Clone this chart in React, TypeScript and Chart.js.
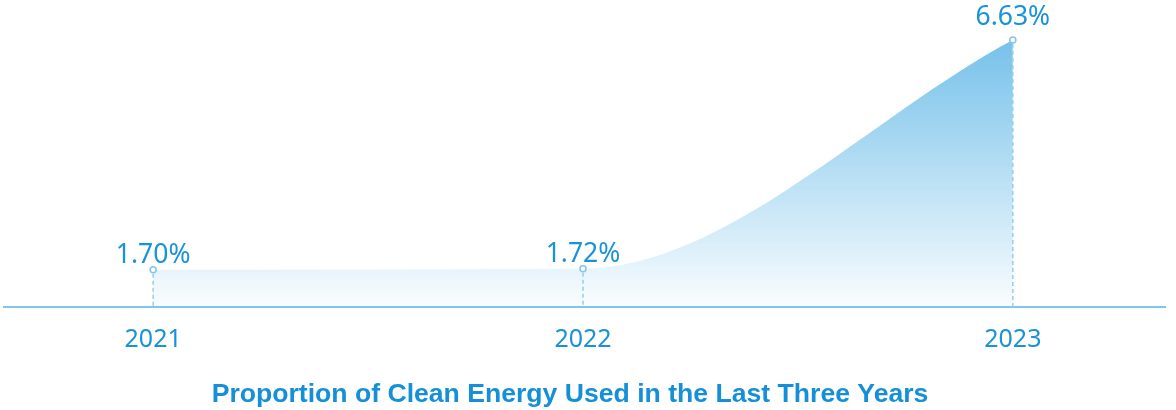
import React, { useEffect, useRef } from "react";
import { Chart, registerables } from "chart.js";

Chart.register(...registerables);

const years = [2021, 2022, 2023];
const yearLabels = ["2021", "2022", "2023"];
const shares = [1.7, 1.72, 6.63];
const shareLabels = ["1.70%", "1.72%", "6.63%"];
const chartTitle = "Proportion of Clean Energy Used in the Last Three Years";

const BLUE_TEXT = "#1a92d8";
const TITLE_BLUE = "#1590d8";
const LINE_BLUE = "#80c6ec";
const NUM_FONT = "'Noto Sans', sans-serif";

const overlayPlugin = {
  id: "overlay",
  afterDatasetsDraw(chart: any) {
    const ctx = chart.ctx;
    const meta = chart.getDatasetMeta(0);
    const bottom = chart.chartArea.bottom;
    const last = meta.data.length - 1;
    ctx.save();
    meta.data.forEach((pt: any, i: number) => {
      ctx.strokeStyle = "#93cfee";
      ctx.lineWidth = 1.5;
      ctx.setLineDash([4, 3]);
      ctx.beginPath();
      ctx.moveTo(pt.x, pt.y + 4);
      ctx.lineTo(pt.x, bottom);
      ctx.stroke();
      ctx.setLineDash([]);
      ctx.fillStyle = "#ffffff";
      ctx.strokeStyle = LINE_BLUE;
      ctx.lineWidth = 1.5;
      ctx.beginPath();
      ctx.arc(pt.x, pt.y, 3, 0, Math.PI * 2);
      ctx.fill();
      ctx.stroke();
      ctx.fillStyle = BLUE_TEXT;
      ctx.font = `400 26.5px ${NUM_FONT}`;
      ctx.textAlign = "center";
      ctx.textBaseline = "alphabetic";
      ctx.fillText(shareLabels[i], pt.x, pt.y - (i === last ? 15 : 7));
    });
    ctx.restore();
  },
  afterDraw(chart: any) {
    const ctx = chart.ctx;
    ctx.save();
    ctx.fillStyle = TITLE_BLUE;
    ctx.font = "bold 26.6px 'Liberation Sans', Arial, sans-serif";
    ctx.textAlign = "center";
    ctx.textBaseline = "middle";
    ctx.fillText(chartTitle, 570, 395);
    ctx.restore();
  },
};

export default function App() {
  const ref = useRef<HTMLCanvasElement | null>(null);
  useEffect(() => {
    document.body.style.margin = "0";
    const canvas = ref.current!;
    const chart = new Chart(canvas, {
      type: "line",
      data: {
        datasets: [
          {
            data: years.map((y, i) => ({ x: y, y: shares[i] })),
            fill: "start",
            borderWidth: 0,
            borderColor: "rgba(0,0,0,0)",
            pointRadius: 0,
            cubicInterpolationMode: "monotone",
            backgroundColor: (c: any) => {
              const { chart } = c;
              const area = chart.chartArea;
              if (!area) return "rgba(120,195,235,0.5)";
              const g = chart.ctx.createLinearGradient(0, area.top + 15, 0, area.bottom);
              g.addColorStop(0, "rgba(118,193,234,1)");
              g.addColorStop(1, "rgba(118,193,234,0.04)");
              return g;
            },
          },
        ],
      },
      options: {
        responsive: false,
        animation: false,
        layout: { padding: { left: 4, right: 11, top: 25, bottom: 37 } },
        plugins: {
          legend: { display: false },
          tooltip: { enabled: false },
          title: { display: false },
        },
        scales: {
          x: {
            type: "linear",
            min: 2020.653,
            max: 2023.354,
            afterBuildTicks: (axis: any) => {
              axis.ticks = years.map((v) => ({ value: v }));
            },
            grid: { display: false, drawTicks: false },
            border: { display: true, color: LINE_BLUE, width: 2 },
            ticks: {
              color: BLUE_TEXT,
              padding: 18,
              font: { family: NUM_FONT, size: 25, weight: "400" },
              callback: (v: any) => yearLabels[years.indexOf(Number(v))] ?? "",
              maxRotation: 0,
              autoSkip: false,
            },
          },
          y: {
            display: false,
            min: 0.9,
            max: 6.954,
          },
        },
      },
      plugins: [overlayPlugin],
    });
    return () => chart.destroy();
  }, []);
  return <canvas ref={ref} width={1176} height={410} style={{ display: "block" }} />;
}
